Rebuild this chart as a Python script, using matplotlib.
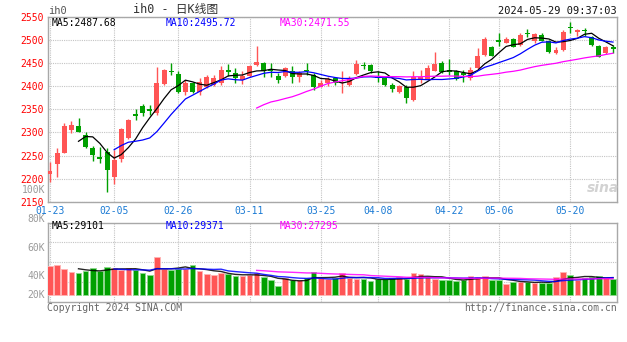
import matplotlib
matplotlib.use("Agg")
import matplotlib.pyplot as plt
import numpy as np

# ---- daily bars for ih0 (trading days, MM-DD) ----
dates = [
    "01-23", "01-24", "01-25", "01-26", "01-29", "01-30", "01-31",
    "02-01", "02-02", "02-05", "02-06", "02-07", "02-08", "02-19", "02-20",
    "02-21", "02-22", "02-23", "02-26", "02-27", "02-28", "02-29",
    "03-01", "03-04", "03-05", "03-06", "03-07", "03-08", "03-11", "03-12",
    "03-13", "03-14", "03-15", "03-18", "03-19", "03-20", "03-21", "03-22",
    "03-25", "03-26", "03-27", "03-28", "03-29",
    "04-01", "04-02", "04-03", "04-08", "04-09", "04-10", "04-11", "04-12",
    "04-15", "04-16", "04-17", "04-18", "04-19", "04-22", "04-23", "04-24",
    "04-25", "04-26", "04-29", "04-30",
    "05-06", "05-07", "05-08", "05-09", "05-10", "05-13", "05-14", "05-15",
    "05-16", "05-17", "05-20", "05-21", "05-22", "05-23", "05-24", "05-27",
    "05-28",
]

opens = [2210, 2232, 2256, 2305, 2314, 2294, 2266, 2246, 2258, 2204,
         2242, 2287, 2340, 2357, 2350, 2342, 2405, 2434, 2427, 2388,
         2406, 2388, 2399, 2403, 2406, 2435, 2429, 2413, 2422, 2446,
         2451, 2435, 2422, 2422, 2434, 2421, 2436, 2424, 2399, 2406,
         2418, 2406, 2403, 2427, 2446, 2446, 2421, 2417, 2403, 2388,
         2398, 2370, 2416, 2415, 2434, 2450, 2435, 2432, 2429, 2417,
         2439, 2468, 2484, 2500, 2494, 2502, 2489, 2516, 2497, 2511,
         2497, 2471, 2478, 2529, 2518, 2522, 2506, 2487, 2471, 2484]
highs = [2237, 2266, 2320, 2325, 2331, 2302, 2271, 2269, 2266, 2262,
         2309, 2329, 2350, 2362, 2359, 2442, 2437, 2451, 2432, 2414,
         2410, 2418, 2424, 2424, 2444, 2448, 2439, 2432, 2447, 2487,
         2453, 2451, 2429, 2442, 2444, 2432, 2450, 2428, 2414, 2420,
         2421, 2432, 2422, 2457, 2453, 2448, 2432, 2421, 2406, 2403,
         2403, 2432, 2435, 2446, 2475, 2455, 2458, 2435, 2435, 2442,
         2482, 2506, 2487, 2515, 2506, 2504, 2516, 2525, 2516, 2515,
         2500, 2486, 2522, 2540, 2523, 2526, 2509, 2489, 2487, 2489]
lows = [2193, 2203, 2255, 2298, 2300, 2266, 2239, 2234, 2172, 2188,
        2237, 2286, 2326, 2335, 2338, 2338, 2403, 2424, 2386, 2381,
        2386, 2381, 2396, 2400, 2403, 2422, 2406, 2405, 2420, 2444,
        2421, 2419, 2406, 2419, 2408, 2410, 2424, 2392, 2398, 2400,
        2402, 2385, 2400, 2424, 2437, 2428, 2410, 2400, 2388, 2386,
        2364, 2369, 2406, 2414, 2432, 2428, 2424, 2414, 2410, 2414,
        2437, 2466, 2465, 2487, 2493, 2484, 2487, 2506, 2493, 2497,
        2473, 2470, 2477, 2516, 2509, 2509, 2487, 2463, 2470, 2473]
closes = [2217, 2255, 2314, 2316, 2302, 2269, 2251, 2243, 2219, 2240,
          2307, 2327, 2335, 2343, 2347, 2406, 2435, 2431, 2388, 2406,
          2388, 2410, 2419, 2417, 2435, 2431, 2417, 2422, 2444, 2452,
          2434, 2432, 2414, 2439, 2419, 2429, 2432, 2398, 2406, 2415,
          2406, 2410, 2415, 2448, 2443, 2432, 2418, 2403, 2394, 2400,
          2374.2, 2419, 2419, 2440, 2449, 2430, 2430, 2416, 2424, 2435,
          2466, 2502, 2466, 2495, 2502, 2485, 2512, 2513, 2513, 2499,
          2475, 2478, 2517.8, 2526, 2522, 2519, 2489, 2464, 2486, 2480.4]
volumes = [49300, 51000, 43800, 39200, 37600, 40400, 45000, 40900, 46600, 45000,
           42100, 45500, 42100, 37600, 33700, 63500, 43800, 42100, 43800, 43300,
           50500, 40900, 35400, 33700, 37600, 34900, 32000, 32000, 33700, 36500,
           29800, 25300, 15200, 28100, 25300, 25300, 28100, 39200, 28100, 26400,
           28100, 37600, 28100, 26400, 27300, 24100, 26400, 26400, 28100, 29800,
           26400, 36500, 34900, 29800, 26400, 25300, 25300, 24100, 25300, 32000,
           29800, 32000, 25300, 25300, 18800, 22400, 21700, 22400, 20700, 20740,
           20700, 30100, 39200, 33000, 25205, 28100, 29800, 32000, 29100, 26505]

tick_dates = ["01-23", "02-05", "02-26", "03-11", "03-25",
              "04-08", "04-22", "05-06", "05-20"]
price_ticks = [2150, 2200, 2250, 2300, 2350, 2400, 2450, 2500, 2550]
ma_periods = [5, 10, 30]
ma_colors = ["#000000", "#0000ff", "#ff00ff"]

UP = "#ff5555"
DOWN = "#00a000"
UP_EDGE = "#ffb4b4"
DOWN_EDGE = "#8fd88f"
GRID = "#c4c4c4"
FRAME = "#a8a8a8"
MONO = ["DejaVu Sans Mono", "Noto Sans CJK SC"]


def sma(values, n):
    v = np.asarray(values, dtype=float)
    out = np.full(v.size, np.nan)
    c = np.cumsum(np.insert(v, 0, 0.0))
    out[n - 1:] = (c[n:] - c[:-n]) / n
    return out


W, H = 627, 342
fig = plt.figure(figsize=(W / 100, H / 100), dpi=100, facecolor="white")


def rect(left, top, right, bottom):
    return [left / W, 1 - bottom / H, (right - left) / W, (bottom - top) / H]


axp = fig.add_axes(rect(48, 17, 617, 201.7))
axv = fig.add_axes(rect(48, 222.7, 617, 301.7), sharex=axp)

x = np.arange(len(dates))
o = np.asarray(opens, float)
c = np.asarray(closes, float)
hi = np.asarray(highs, float)
lo = np.asarray(lows, float)
vol = np.asarray(volumes, float)
is_up = c >= o
col = np.where(is_up, UP, DOWN)

# ---- price panel ----
axp.vlines(x, lo, hi, colors=col, linewidth=1.0, zorder=3)
body_lo = np.minimum(o, c)
body_h = np.maximum(np.abs(c - o), 2.0)
axp.bar(x, body_h, bottom=body_lo, width=0.7, color=col, linewidth=0, zorder=4)

price_ma = [sma(c, n) for n in ma_periods]
for m, mc in zip(price_ma, ma_colors):
    axp.plot(x, m, color=mc, linewidth=0.9, zorder=5)

axp.set_ylim(2150, 2550)
axp.set_yticks(price_ticks)
axp.set_xlim(-0.28, 79.56)
tick_idx = [dates.index(d) for d in tick_dates]
axp.set_xticks(tick_idx)
axp.set_xticklabels(tick_dates)

for ax in (axp, axv):
    ax.set_facecolor("white")
    for s in ax.spines.values():
        s.set_color(FRAME)
        s.set_linewidth(1.0)
    ax.grid(True, color=GRID, linestyle=(0, (1, 1)), linewidth=0.8)
    ax.set_axisbelow(True)
    ax.tick_params(length=0)

axp.tick_params(axis="y", labelcolor="#ff0000", labelsize=7, pad=3)
axp.tick_params(axis="x", labelcolor="#1a7ad4", labelsize=7, pad=3)
for lab in axp.get_yticklabels() + axp.get_xticklabels():
    lab.set_family(MONO)

# ---- volume panel ----
vcol_edge = np.where(is_up, UP_EDGE, DOWN_EDGE)
axv.bar(x, vol, width=0.78, color=col, edgecolor=vcol_edge, linewidth=0.6, zorder=3)
vol_ma = [sma(vol, n) for n in ma_periods]
for m, mc in zip(vol_ma, ma_colors):
    axv.plot(x, m, color=mc, linewidth=1.0, alpha=0.85, zorder=5)

v_lo, v_hi = -11300, 121750
axv.set_ylim(v_lo, v_hi)
axv.set_yticks([v_lo + (v_hi - v_lo) * f for f in (0.25, 0.5, 0.75)])
axv.tick_params(axis="y", labelleft=False)
axv.tick_params(axis="x", labelbottom=False)

# volume scale captions
for txt, ypix in [("100K", 190), ("80K", 219), ("60K", 247.7), ("40K", 275.7), ("20K", 295)]:
    fig.text(45 / W, 1 - ypix / H, txt, ha="right", va="center",
             color="#9a9a9a", fontsize=7, family=MONO)

# ---- headers and moving-average captions ----
fig.text(48 / W, 1 - 11.5 / H, "ih0", ha="left", va="center",
         color="#555555", fontsize=7.5, family=MONO)
fig.text(176 / W, 1 - 10 / H, "ih0 - 日K线图", ha="center", va="center",
         color="#333333", fontsize=8.5, family=MONO)
fig.text(617 / W, 1 - 11.5 / H, "2024-05-29 09:37:03", ha="right", va="center",
         color="#111111", fontsize=7.5, family=MONO)

ma_x = [52, 166, 280]
for n, m, mc, xp in zip(ma_periods, price_ma, ma_colors, ma_x):
    fig.text(xp / W, 1 - 22.7 / H, f"MA{n}:{m[-1]:.2f}", ha="left", va="center",
             color=mc, fontsize=7, family=MONO)
for n, m, mc, xp in zip(ma_periods, vol_ma, ma_colors, ma_x):
    fig.text(xp / W, 1 - 226 / H, f"MA{n}:{m[-1]:.0f}", ha="left", va="center",
             color=mc, fontsize=7, family=MONO)

fig.text(47 / W, 1 - 307.7 / H, "Copyright 2024 SINA.COM", ha="left", va="center",
         color="#666666", fontsize=7, family=MONO)
fig.text(617 / W, 1 - 307.7 / H, "http://finance.sina.com.cn", ha="right", va="center",
         color="#666666", fontsize=7, family=MONO)

# watermark
fig.text(603 / W, 1 - 188 / H, "sina", ha="center", va="center", color="#d2d2d2",
         fontsize=10, fontweight="bold", style="italic", family="DejaVu Sans")

fig.savefig("out.png", dpi=100, facecolor="white")
